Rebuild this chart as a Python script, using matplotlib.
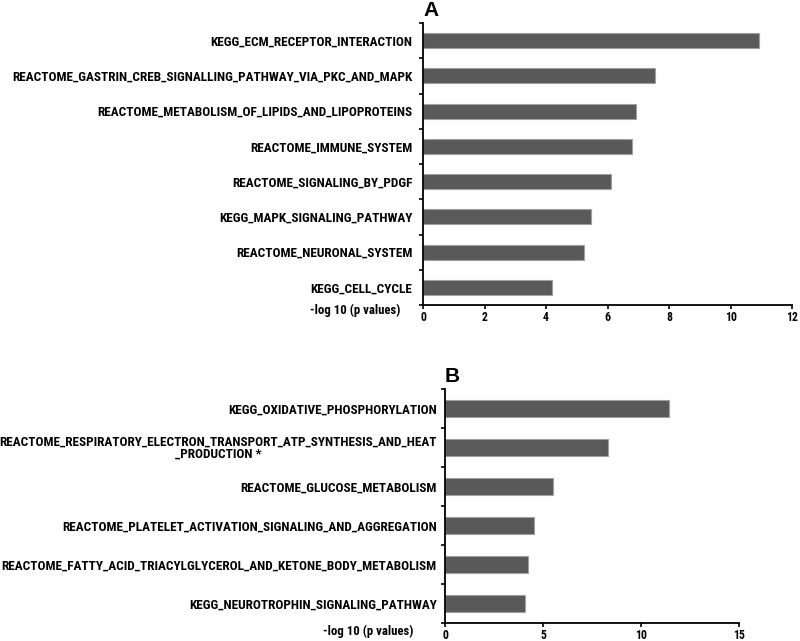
import matplotlib.pyplot as plt
import numpy as np

# Panel A data
pathways_a = ["KEGG_ECM_RECEPTOR_INTERACTION",
              "REACTOME_GASTRIN_CREB_SIGNALLING_PATHWAY_VIA_PKC_AND_MAPK",
              "REACTOME_METABOLISM_OF_LIPIDS_AND_LIPOPROTEINS",
              "REACTOME_IMMUNE_SYSTEM",
              "REACTOME_SIGNALING_BY_PDGF",
              "KEGG_MAPK_SIGNALING_PATHWAY",
              "REACTOME_NEURONAL_SYSTEM",
              "KEGG_CELL_CYCLE"]
values_a = [10.93, 7.55, 6.93, 6.80, 6.10, 5.45, 5.25, 4.20]
xticks_a = [0, 2, 4, 6, 8, 10, 12]

# Panel B data
pathways_b = ["KEGG_OXIDATIVE_PHOSPHORYLATION",
              "REACTOME_RESPIRATORY_ELECTRON_TRANSPORT_ATP_SYNTHESIS_AND_HEAT\n_PRODUCTION *",
              "REACTOME_GLUCOSE_METABOLISM",
              "REACTOME_PLATELET_ACTIVATION_SIGNALING_AND_AGGREGATION",
              "REACTOME_FATTY_ACID_TRIACYLGLYCEROL_AND_KETONE_BODY_METABOLISM",
              "KEGG_NEUROTROPHIN_SIGNALING_PATHWAY"]
values_b = [11.45, 8.32, 5.52, 4.52, 4.22, 4.08]
xticks_b = [0, 5, 10, 15]

plt.rcParams['font.family'] = ['Roboto Condensed', 'DejaVu Sans']

W, H = 800, 641
fig = plt.figure(figsize=(8, 6.41), dpi=100)


def panel(rect_px, labels, values, xticks, letter, xlabel_pos, pad):
    x0, x1, ytop, ybot = rect_px
    ax = fig.add_axes([x0 / W, 1 - ybot / H, (x1 - x0) / W, (ybot - ytop) / H])
    n = len(labels)
    y = np.arange(n)
    ax.barh(y, values, height=0.42, color='#595959', edgecolor='#a0a0a0', linewidth=0.8)
    ax.set_ylim(n - 0.5, -0.5)
    ax.set_xlim(xticks[0], xticks[-1])
    ax.set_yticks(y)
    ax.set_yticklabels(labels, fontsize=9.5, fontweight='bold', linespacing=0.85)
    for t in ax.get_yticklabels():
        if '\n' in t.get_text():
            t.set_multialignment('center')
    ax.set_yticks(np.arange(n + 1) - 0.5, minor=True)
    ax.tick_params(axis='y', which='major', length=0, pad=pad)
    ax.tick_params(axis='y', which='minor', length=3, width=1.2, direction='out')
    ax.set_xticks(xticks)
    ax.set_xticklabels([str(t) for t in xticks], fontsize=8.5, fontweight='bold')
    ax.tick_params(axis='x', length=3, width=1.2, direction='out', pad=1.5)
    for s in ['top', 'right']:
        ax.spines[s].set_visible(False)
    for s in ['left', 'bottom']:
        ax.spines[s].set_linewidth(1.3)
    fig.text(x0 / W, 1 - (ytop - 13) / H, letter, fontsize=15, fontweight='bold',
             ha='left', va='center', family=['Liberation Sans', 'DejaVu Sans'])
    fig.text(xlabel_pos[0] / W, 1 - xlabel_pos[1] / H, "-log 10 (p values)",
             fontsize=9.2, fontweight='bold', ha='center', va='center')
    return ax


panel((423, 792, 23, 305), pathways_a, values_a, xticks_a, "A", (355, 310), 7.5)
panel((445, 739, 389, 623), pathways_b, values_b, xticks_b, "B", (368, 631), 6)

fig.savefig('out.png', dpi=100)
